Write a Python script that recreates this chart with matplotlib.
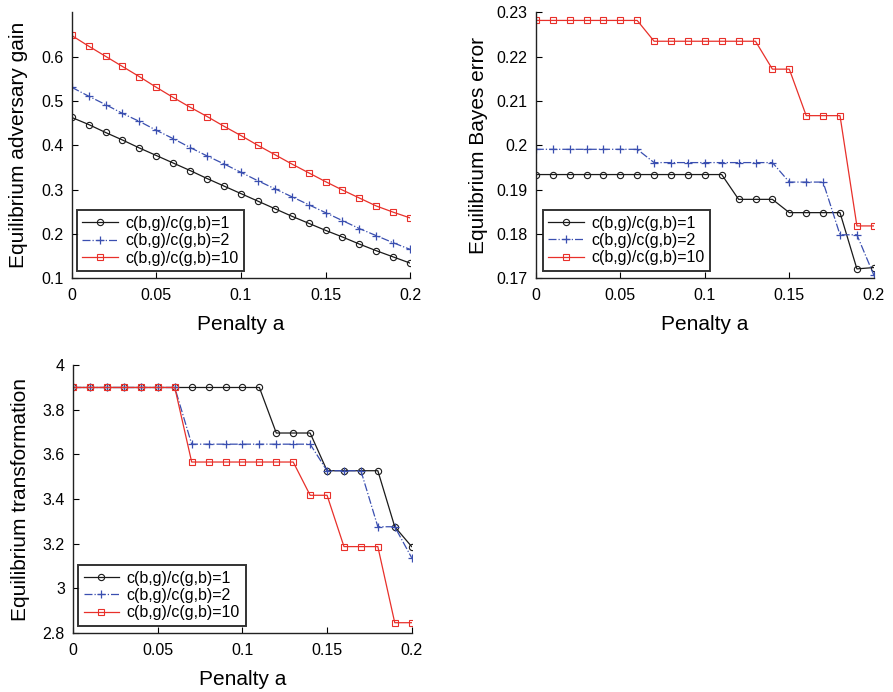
import matplotlib
matplotlib.use("Agg")
import matplotlib.pyplot as plt

plt.rcParams["font.family"] = ["Liberation Sans", "DejaVu Sans"]

# === data ===
penalty = [0.00, 0.01, 0.02, 0.03, 0.04, 0.05, 0.06, 0.07, 0.08, 0.09, 0.10,
           0.11, 0.12, 0.13, 0.14, 0.15, 0.16, 0.17, 0.18, 0.19, 0.20]

series_labels = ["c(b,g)/c(g,b)=1", "c(b,g)/c(g,b)=2", "c(b,g)/c(g,b)=10"]

gain_r1 = [0.463, 0.447, 0.429, 0.412, 0.394, 0.377, 0.360, 0.343, 0.325, 0.308, 0.291,
           0.274, 0.257, 0.240, 0.224, 0.208, 0.193, 0.177, 0.162, 0.148, 0.134]
gain_r2 = [0.531, 0.511, 0.492, 0.472, 0.454, 0.434, 0.415, 0.395, 0.376, 0.358, 0.339,
           0.320, 0.302, 0.284, 0.266, 0.248, 0.230, 0.212, 0.196, 0.180, 0.165]
gain_r10 = [0.648, 0.624, 0.601, 0.578, 0.555, 0.531, 0.508, 0.486, 0.465, 0.443, 0.422,
            0.400, 0.379, 0.358, 0.338, 0.318, 0.299, 0.281, 0.263, 0.249, 0.236]

bayes_r1 = [0.1934] * 12 + [0.1878] * 3 + [0.1848] * 4 + [0.1721, 0.1724]
bayes_r2 = [0.1991] * 7 + [0.1961] * 8 + [0.1917] * 3 + [0.1798] * 2 + [0.1707]
bayes_r10 = [0.2282] * 7 + [0.2235] * 7 + [0.2172] * 2 + [0.2067] * 3 + [0.1818] * 2

trans_r1 = [3.9] * 12 + [3.696] * 3 + [3.527] * 4 + [3.276, 3.187]
trans_r2 = [3.9] * 7 + [3.646] * 8 + [3.527] * 3 + [3.276] * 2 + [3.137]
trans_r10 = [3.9] * 7 + [3.566] * 7 + [3.417] * 2 + [3.187] * 3 + [2.846] * 2

x_ticks = [0, 0.05, 0.1, 0.15, 0.2]
x_ticklabels = ["0", "0.05", "0.1", "0.15", "0.2"]

gain_ticks = [0.1, 0.2, 0.3, 0.4, 0.5, 0.6]
gain_ticklabels = ["0.1", "0.2", "0.3", "0.4", "0.5", "0.6"]
bayes_ticks = [0.17, 0.18, 0.19, 0.20, 0.21, 0.22, 0.23]
bayes_ticklabels = ["0.17", "0.18", "0.19", "0.2", "0.21", "0.22", "0.23"]
trans_ticks = [2.8, 3.0, 3.2, 3.4, 3.6, 3.8, 4.0]
trans_ticklabels = ["2.8", "3", "3.2", "3.4", "3.6", "3.8", "4"]

# === styles ===
styles = [
    dict(color="#1a1a1a", linestyle="-", marker="o", markersize=4.5, fillstyle="none", markeredgewidth=0.8),
    dict(color="#3a4fb0", linestyle="-.", marker="+", markersize=6, markeredgewidth=0.9),
    dict(color="#e8302a", linestyle="-", marker="s", markersize=4, fillstyle="none", markeredgewidth=0.8),
]


def draw_panel(ax, ys, ylim, yticks, yticklabels, ylabel, legend_anchor, ylabelpad):
    for y, lab, st in zip(ys, series_labels, styles):
        ax.plot(penalty, y, label=lab, linewidth=0.9, **st)
    ax.set_xlim(0, 0.2)
    ax.set_ylim(*ylim)
    ax.set_xticks(x_ticks)
    ax.set_xticklabels(x_ticklabels)
    ax.set_yticks(yticks)
    ax.set_yticklabels(yticklabels)
    ax.set_xlabel("Penalty a", fontsize=15, labelpad=9)
    ax.set_ylabel(ylabel, fontsize=15, labelpad=ylabelpad)
    ax.tick_params(direction="in", length=4, width=0.8, labelsize=11.5)
    ax.tick_params(axis="x", pad=7)
    ax.tick_params(axis="y", pad=6)
    ax.spines["top"].set_visible(False)
    ax.spines["right"].set_visible(False)
    for s in ("left", "bottom"):
        ax.spines[s].set_linewidth(1.0)
        ax.spines[s].set_color("#222222")
    leg = ax.legend(loc="lower left", bbox_to_anchor=legend_anchor, borderaxespad=0,
                    fontsize=11.5, frameon=True, fancybox=False, handlelength=2.2,
                    labelspacing=0.15, borderpad=0.35, handletextpad=0.5)
    leg.get_frame().set_edgecolor("black")
    leg.get_frame().set_linewidth(1.4)


fig = plt.figure(figsize=(8.93, 6.92), dpi=100)

ax1 = fig.add_axes([0.0803, 0.598, 0.379, 0.384])
draw_panel(ax1, [gain_r1, gain_r2, gain_r10], (0.1, 0.7), gain_ticks, gain_ticklabels,
           "Equilibrium adversary gain", (0.015, 0.026), 9)

ax2 = fig.add_axes([0.600, 0.598, 0.3785, 0.384])
draw_panel(ax2, [bayes_r1, bayes_r2, bayes_r10], (0.17, 0.23), bayes_ticks, bayes_ticklabels,
           "Equilibrium Bayes error", (0.021, 0.027), 6)

ax3 = fig.add_axes([0.082, 0.0853, 0.379, 0.387])
draw_panel(ax3, [trans_r1, trans_r2, trans_r10], (2.8, 4.0), trans_ticks, trans_ticklabels,
           "Equilibrium transformation", (0.014, 0.026), 9)

plt.savefig("out.png", dpi=100)
